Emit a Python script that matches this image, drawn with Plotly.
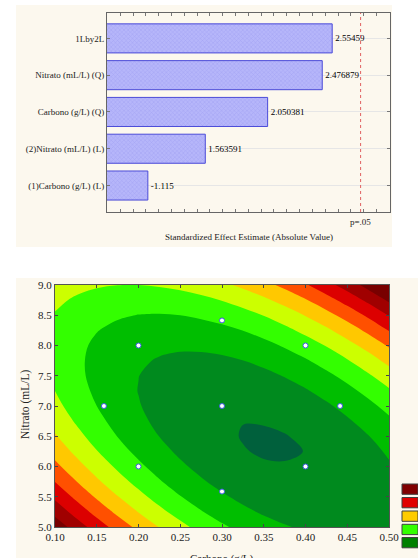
import plotly.graph_objects as go

# ---------------- data ----------------
effect_terms = ["(1)Carbono (g/L) (L)", "(2)Nitrato (mL/L) (L)", "Carbono (g/L) (Q)",
                "Nitrato (mL/L) (Q)", "1Lby2L"]
effect_values = [-1.115, 1.563591, 2.050381, 2.476879, 2.55459]
effect_labels = ["-1.115", "1.563591", "2.050381", "2.476879", "2.55459"]
p05_value = 2.776445

design_carbono = [0.2, 0.3, 0.4, 0.1586, 0.3, 0.4414, 0.2, 0.3, 0.4]
design_nitrato = [8.0, 8.414, 8.0, 7.0, 7.0, 7.0, 6.0, 5.586, 6.0]

grid_carbono = [0.100, 0.125, 0.150, 0.175, 0.200, 0.225, 0.250, 0.275, 0.300,
                0.325, 0.350, 0.375, 0.400, 0.425, 0.450, 0.475, 0.500]
grid_nitrato = [5.00, 5.25, 5.50, 5.75, 6.00, 6.25, 6.50, 6.75, 7.00,
                7.25, 7.50, 7.75, 8.00, 8.25, 8.50, 8.75, 9.00]
surface = [
    [9.66, 8.56, 7.54, 6.60, 5.75, 4.97, 4.28, 3.67, 3.15, 2.71, 2.34, 2.07, 1.87, 1.76, 1.73, 1.78, 1.91],
    [8.68, 7.63, 6.66, 5.78, 4.97, 4.25, 3.62, 3.06, 2.59, 2.20, 1.89, 1.67, 1.52, 1.46, 1.49, 1.59, 1.78],
    [7.79, 6.79, 5.87, 5.04, 4.29, 3.62, 3.04, 2.54, 2.12, 1.78, 1.53, 1.35, 1.26, 1.26, 1.33, 1.49, 1.73],
    [6.98, 6.04, 5.17, 4.39, 3.70, 3.08, 2.55, 2.10, 1.74, 1.45, 1.25, 1.13, 1.09, 1.14, 1.27, 1.48, 1.77],
    [6.26, 5.37, 4.56, 3.84, 3.19, 2.63, 2.15, 1.76, 1.44, 1.21, 1.06, 1.04, 1.05, 1.11, 1.29, 1.56, 1.90],
    [5.63, 4.79, 4.04, 3.36, 2.77, 2.27, 1.84, 1.50, 1.24, 1.03, 0.94, 0.93, 1.01, 1.17, 1.40, 1.72, 2.12],
    [5.09, 4.31, 3.60, 2.98, 2.44, 1.99, 1.62, 1.33, 1.12, 0.97, 0.93, 0.97, 1.11, 1.32, 1.60, 1.97, 2.43],
    [4.64, 3.91, 3.26, 2.69, 2.20, 1.80, 1.48, 1.24, 1.09, 1.01, 1.03, 1.12, 1.29, 1.55, 1.89, 2.31, 2.82],
    [4.27, 3.59, 3.00, 2.48, 2.05, 1.70, 1.43, 1.25, 1.15, 1.13, 1.19, 1.34, 1.56, 1.87, 2.27, 2.74, 3.30],
    [4.00, 3.37, 2.83, 2.36, 1.98, 1.69, 1.47, 1.34, 1.29, 1.33, 1.44, 1.64, 1.92, 2.29, 2.73, 3.26, 3.87],
    [3.81, 3.23, 2.74, 2.33, 2.01, 1.76, 1.60, 1.52, 1.53, 1.61, 1.78, 2.04, 2.37, 2.79, 3.28, 3.87, 4.53],
    [3.71, 3.19, 2.75, 2.39, 2.12, 1.93, 1.82, 1.80, 1.85, 1.99, 2.21, 2.52, 2.90, 3.37, 3.93, 4.56, 5.28],
    [3.70, 3.23, 2.84, 2.54, 2.32, 2.18, 2.13, 2.15, 2.26, 2.46, 2.73, 3.09, 3.53, 4.05, 4.66, 5.34, 6.11],
    [3.77, 3.36, 3.03, 2.78, 2.61, 2.52, 2.52, 2.60, 2.76, 3.01, 3.34, 3.75, 4.24, 4.81, 5.47, 6.21, 7.04],
    [3.94, 3.58, 3.30, 3.10, 2.98, 2.95, 3.00, 3.14, 3.35, 3.65, 4.03, 4.49, 5.04, 5.67, 6.38, 7.17, 8.05],
    [4.19, 3.88, 3.65, 3.51, 3.45, 3.47, 3.57, 3.76, 4.03, 4.38, 4.81, 5.33, 5.93, 6.61, 7.37, 8.22, 9.15],
    [4.53, 4.27, 4.10, 4.01, 4.00, 4.08, 4.23, 4.47, 4.79, 5.20, 5.68, 6.25, 6.90, 7.64, 8.45, 9.35, 10.34],
]
contour_levels = [1, 2, 3, 4, 5, 6, 7, 8, 9]

band_colors = ["#00603C", "#008A1E", "#00BE00", "#33FF00", "#CCFF00",
               "#FFC800", "#FF5000", "#DC0000", "#A00000", "#780000"]
legend_colors = ["#800000", "#E00000", "#FFCC00", "#33FF00", "#008000"]

W, H = 418, 558
def px(x): return x / W
def py(y): return 1 - y / H

SERIF = "Liberation Serif, Times New Roman, serif"
fig = go.Figure()

fig.add_trace(go.Bar(
    y=effect_terms, x=[abs(v) for v in effect_values], orientation="h",
    text=effect_labels, textposition="outside", cliponaxis=False,
    textfont=dict(family=SERIF, size=9, color="#000"),
    marker=dict(color="#A8A8F6", line=dict(color="#4A4AD8", width=1),
                pattern=dict(shape="x", fgcolor="#8E8EEE", bgcolor="#B6B6FA", size=3, solidity=0.3)),
    width=0.79, xaxis="x", yaxis="y", showlegend=False))

fig.add_trace(go.Contour(
    x=grid_carbono, y=grid_nitrato, z=surface, xaxis="x2", yaxis="y2",
    autocontour=False,
    contours=dict(start=contour_levels[0], end=contour_levels[-1], size=1,
                  coloring="fill", showlines=False),
    colorscale=[[k / 9, c] for k, c in enumerate(band_colors)],
    line=dict(width=0, smoothing=1.0), showscale=False, showlegend=False, hoverinfo="skip"))

fig.add_trace(go.Scatter(
    x=design_carbono, y=design_nitrato, mode="markers", xaxis="x2", yaxis="y2",
    marker=dict(size=5, color="white", line=dict(color="#3A5AE0", width=1)), showlegend=False))

shapes = [
    dict(type="rect", xref="paper", yref="paper", x0=px(16), x1=px(392), y0=py(247), y1=py(5),
         fillcolor="#FCF8EE", line=dict(width=0), layer="below"),
    dict(type="rect", xref="paper", yref="paper", x0=px(16), x1=1.0, y0=0, y1=py(278),
         fillcolor="#FCF8EE", line=dict(width=0), layer="below"),
    dict(type="line", xref="x", yref="y domain", x0=p05_value, x1=p05_value, y0=0, y1=1,
         line=dict(color="#E06060", width=1, dash="dot")),
]
box_tops = [484, 497.5, 511, 524.3, 537.5]
for c, t in zip(legend_colors, box_tops):
    shapes.append(dict(type="rect", xref="paper", yref="paper", x0=px(402), x1=1.0,
                       y0=py(t + 10.3), y1=py(t), fillcolor=c, line=dict(color="#404040", width=1)))

annotations = [
    dict(text="p=.05", x=p05_value, xref="x", y=py(222), yref="paper", showarrow=False,
         font=dict(family=SERIF, size=9, color="#222")),
    dict(text="Standardized Effect Estimate (Absolute Value)", x=px(248.5), y=py(237), xref="paper",
         yref="paper", showarrow=False, font=dict(family=SERIF, size=9, color="#222")),
    dict(text="Nitrato (mL/L)", x=px(25), y=py(405), xref="paper", yref="paper", textangle=-90,
         xanchor="center", yanchor="middle",
         showarrow=False, font=dict(family=SERIF, size=11.5, color="#222")),
    dict(text="Carbono (g/L)", x=px(222), y=py(550), xref="paper", yref="paper", yanchor="top",
         xanchor="center", showarrow=False, font=dict(family=SERIF, size=11, color="#222")),
]

fig.update_layout(
    width=W, height=H, autosize=False, margin=dict(l=0, r=0, t=0, b=0, pad=0, autoexpand=False),
    paper_bgcolor="white", plot_bgcolor="white", shapes=shapes, annotations=annotations,
    font=dict(family=SERIF, color="#222"), showlegend=False,
    xaxis=dict(domain=[px(107), px(390)], range=[0.796, 3.006], tick0=0.8, dtick=0.1,
               ticks="inside", ticklen=3, tickcolor="#777", showticklabels=False, showgrid=False,
               zeroline=False, showline=True, linecolor="#666", mirror="ticks", anchor="y"),
    yaxis=dict(domain=[py(212), py(13)], range=[-0.72, 4.69], categoryorder="array",
               categoryarray=effect_terms, ticks="inside", ticklen=3, tickcolor="#777",
               showgrid=True, gridcolor="#E6E6E6", showline=True, linecolor="#666", mirror="ticks",
               tickfont=dict(family=SERIF, size=9, color="#222"), anchor="x"),
    xaxis2=dict(domain=[px(55), px(389)], range=[0.1, 0.5], tick0=0.1, dtick=0.05, tickformat=".2f",
                ticks="inside", ticklen=3, tickcolor="#444", showgrid=False, zeroline=False,
                showline=True, linecolor="#555", mirror="ticks", anchor="y2",
                tickfont=dict(family=SERIF, size=11, color="#222")),
    yaxis2=dict(domain=[py(527), py(285)], range=[5, 9], tick0=5, dtick=0.5, tickformat=".1f",
                ticks="inside", ticklen=3, tickcolor="#444", showgrid=False, zeroline=False,
                showline=True, linecolor="#555", mirror="ticks", anchor="x2",
                tickfont=dict(family=SERIF, size=11, color="#222")),
)

post = (
    "var d=document.getElementById('{plot_id}');"
    "document.documentElement.style.margin='0';document.documentElement.style.overflow='hidden';"
    "document.body.style.margin='0';document.body.style.overflow='hidden';"
    "d.style.position='fixed';d.style.left='0px';d.style.top='0px';"
)
fig.write_html("out.html", config={"displayModeBar": False, "responsive": False}, post_script=post)
